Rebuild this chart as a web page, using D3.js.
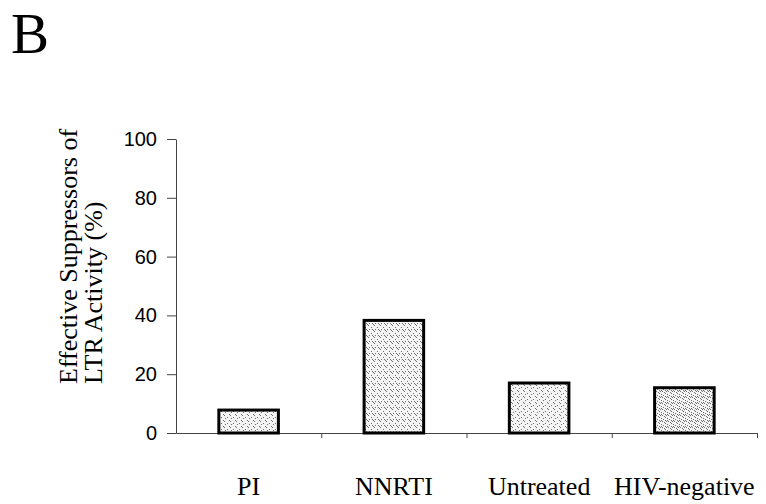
<!DOCTYPE html>
<html>
<head>
<meta charset="utf-8">
<script src="https://cdn.jsdelivr.net/npm/d3@7"></script>
<style>
    body { margin: 0; background: #fff; }
    .y-axis text { font-family: "Liberation Sans", Arial, sans-serif; font-size: 20px; fill: #000; }
    .x-labels text { font-family: "Liberation Serif", "Times New Roman", serif; font-size: 26px; fill: #000; }
    .axis path, .axis line { stroke: #444; stroke-width: 1; }
</style>
</head>
<body>
<div id="chart"></div>
<script>
// data
let categories = ["PI", "NNRTI", "Untreated", "HIV-negative"];
let suppressors = [7.8, 38.3, 17.0, 15.4];
let textures = ["light", "medium", "light", "dense"];
let yTicks = [0, 20, 40, 60, 80, 100];

let width = 766, height = 504;
let margin = {top: 139, right: 9, bottom: 71, left: 176};
let w = width - margin.left - margin.right;
let h = height - margin.top - margin.bottom;

let svg = d3.select("#chart").append("svg")
    .attr("width", width)
    .attr("height", height);

// stipple fills
let defs = svg.append("defs");
let dotSets = {
    light: [[0, 0], [3, 2], [5, 5], [1, 3]],
    medium: [[0, 0], [3, 2], [5, 5], [1, 4], [4, 4]],
    dense: [[0, 0], [3, 2], [5, 5], [1, 4], [4, 0], [2, 1], [5, 3], [3, 5]]
};
Object.keys(dotSets).forEach(function (k) {
    let p = defs.append("pattern")
        .attr("id", "stip-" + k)
        .attr("patternUnits", "userSpaceOnUse")
        .attr("width", 6).attr("height", 6);
    p.append("rect").attr("width", 6).attr("height", 6).attr("fill", "#f4f4f4");
    p.selectAll("rect.dot").data(dotSets[k]).enter().append("rect")
        .attr("class", "dot")
        .attr("x", d => d[0]).attr("y", d => d[1])
        .attr("width", 1).attr("height", 1)
        .attr("fill", "#707070");
});

// panel letter
svg.append("text")
    .attr("x", 11)
    .attr("y", 53)
    .attr("font-family", "Liberation Serif, Times New Roman, serif")
    .attr("font-size", 57)
    .text("B");

let g = svg.append("g")
    .attr("transform", `translate(${margin.left}, ${margin.top})`);

// scales
let x = d3.scaleBand()
    .domain(categories)
    .range([0, w])
    .paddingInner(0.59)
    .paddingOuter(0.295);

let xEdges = d3.scaleLinear()
    .domain([0, categories.length])
    .range([0, w]);

let y = d3.scaleLinear()
    .domain([0, 100])
    .range([h, 0]);

// y axis
g.append("g")
    .attr("class", "axis y-axis")
    .call(d3.axisLeft(y).tickValues(yTicks).tickSize(9).tickSizeOuter(0).tickPadding(10));

// x axis line with ticks at band boundaries
g.append("g")
    .attr("class", "axis x-axis")
    .attr("transform", `translate(0, ${h})`)
    .call(d3.axisBottom(xEdges).tickValues([1, 2, 3, 4]).tickSize(5).tickSizeOuter(0).tickFormat(""));

// bars
g.selectAll("rect.bar")
    .data(categories)
    .enter()
    .append("rect")
    .attr("class", "bar")
    .attr("x", d => x(d))
    .attr("y", (d, i) => y(suppressors[i]))
    .attr("width", x.bandwidth())
    .attr("height", (d, i) => h - y(suppressors[i]))
    .attr("fill", (d, i) => `url(#stip-${textures[i]})`)
    .attr("stroke", "#000")
    .attr("stroke-width", 3);

// category labels
let lab = g.append("g")
    .attr("class", "x-labels")
    .attr("transform", `translate(0, ${h})`)
    .call(d3.axisBottom(x).tickSize(0).tickPadding(44));
lab.select(".domain").remove();

// y axis title
let yt = svg.append("text")
    .attr("transform", "translate(77, 384) rotate(-90)")
    .attr("font-family", "Liberation Serif, Times New Roman, serif")
    .attr("font-size", 26)
    .attr("text-anchor", "start");
yt.append("tspan").attr("x", 0).attr("y", 0).text("Effective Suppressors of");
yt.append("tspan").attr("x", 0).attr("y", 25).text("LTR Activity (%)");
</script>
</body>
</html>
